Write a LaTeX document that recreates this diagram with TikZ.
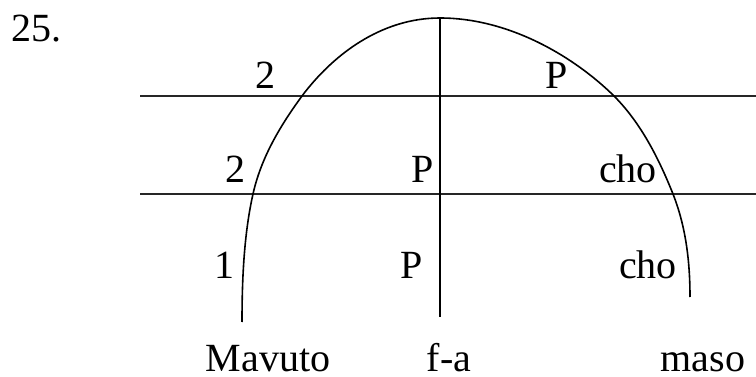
\documentclass[tikz,border=0pt]{standalone}
\usepackage{fontspec}
\setmainfont{Liberation Serif}
\begin{document}
\begin{tikzpicture}[x=1pt,y=-1pt,
  lbl/.style={inner sep=0pt,anchor=base,font=\fontsize{40}{48}\selectfont},
  rule/.style={line width=2pt,draw=black!85},
  arcline/.style={line width=1.6pt}]
\useasboundingbox (0,0) rectangle (756,377);
% coordinates
\coordinate (top) at (440,18);
\coordinate (vbot) at (440,317);
\coordinate (h1a) at (140,96);
\coordinate (h1b) at (756,96);
\coordinate (h2a) at (140,194);
\coordinate (h2b) at (756,194);
\coordinate (lend) at (242,322);
\coordinate (rend) at (690,297);
% lines
\draw[rule] (h1a) -- (h1b);
\draw[rule] (h2a) -- (h2b);
\draw[arcline] (top) -- (vbot);
\draw[arcline] (lend)
  .. controls (242,279) and (244,234) .. (253,194)
  .. controls (261,158) and (280,126) .. (302,96)
  .. controls (332,56) and (380,18) .. (top)
  .. controls (510,18) and (575,57.5) .. (614,96)
  .. controls (641,123) and (659,159) .. (673,194)
  .. controls (686,227) and (690,262) .. (rend);
% labels
\node[lbl] (num) at (37,42) {25.};
\node[lbl] (a1) at (265,89) {2};
\node[lbl] (a2) at (235,183) {2};
\node[lbl] (a3) at (224,279) {1};
\node[lbl] (b1) at (557,89) {P};
\node[lbl] (b2) at (423,183) {P};
\node[lbl] (b3) at (412,279) {P};
\node[lbl] (c2) at (628,183) {cho};
\node[lbl] (c3) at (648,279) {cho};
\node[lbl,text depth=0pt] (m) at (268,371) {Mavuto};
\node[lbl,text depth=0pt] (f) at (449,371) {f-a};
\node[lbl,text depth=0pt] (s) at (703,371) {maso};
\end{tikzpicture}
\end{document}
